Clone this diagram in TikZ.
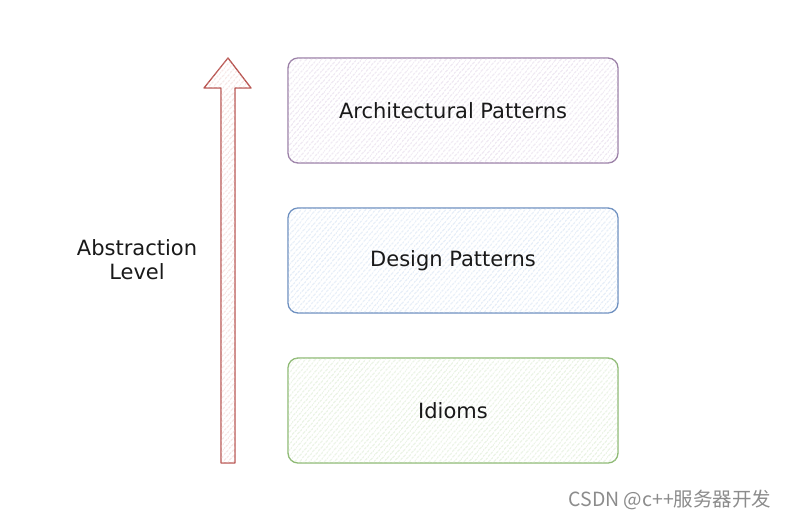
\documentclass[tikz,border=0pt]{standalone}
\usepackage{fontspec}
\setmainfont{DejaVu Sans}
\newfontfamily\cjk{Noto Sans CJK SC}
\usetikzlibrary{patterns.meta,calc}
\definecolor{archb}{HTML}{9A7FA6}
\definecolor{archf}{HTML}{D9C9E0}
\definecolor{desb}{HTML}{6C8EBF}
\definecolor{desf}{HTML}{C3D7EE}
\definecolor{idb}{HTML}{8DB973}
\definecolor{idf}{HTML}{CCE3BE}
\definecolor{arrb}{HTML}{B85450}
\definecolor{arrf}{HTML}{EBC2BF}
\tikzset{
  hatch/.style={pattern={Lines[angle=50,distance=4pt,line width=0.6pt]},pattern color=#1},
  layer/.style args={#1/#2}{draw=#1,line width=1.3pt,rounded corners=10pt,
     minimum width=330pt,minimum height=105pt,inner sep=0pt,
     font=\fontsize{21}{24}\selectfont,text=black!90,
     postaction={hatch=#2}},
}
\begin{document}
\begin{tikzpicture}[x=1pt,y=-1pt]
\useasboundingbox (0,0) rectangle (789,520);
\fill[white] (0,0) rectangle (789,520);
\node[layer=archb/archf] (arch) at (453,110.5) {Architectural Patterns};
\node[layer=desb/desf] (des) at (453,260.5) {Design Patterns};
\node[layer=idb/idf] (idi) at (453,410.5) {Idioms};
\coordinate (abot) at (228,463);
\coordinate (atop) at (228,58);
\draw[arrb,line width=1.3pt,line join=round,postaction={hatch=arrf}]
  ($(abot)+(-7,0)$) -- (221,88) -- (204,88) -- (atop) -- (251,88) -- (235,88) -- ($(abot)+(7,0)$) -- cycle;
\node[align=center,font=\fontsize{21}{24}\selectfont,text=black!90] (lbl) at (137,260) {Abstraction\\Level};
\node[anchor=east,text=black!45,font=\cjk\fontsize{19.5}{22}\selectfont] (wm) at (775,500) {CSDN @c++服务器开发};
\end{tikzpicture}
\end{document}
